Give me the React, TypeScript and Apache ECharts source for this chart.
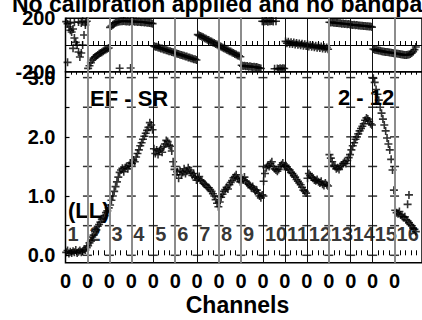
import React, { useEffect, useRef } from 'react';
import * as echarts from 'echarts';

// ---------- data ----------
const titleText = 'No calibration applied and no bandpass';
const xAxisName = 'Channels';
const baselineText = 'EF - SR';
const sourceText = '2 - 12';
const polText = '(LL)';
const ifLabels = ['1', '2', '3', '4', '5', '6', '7', '8', '9', '10', '11', '12', '13', '14', '15', '16'];
const channelTickLabel = '0';
const ampTickValues = [0, 1, 2, 3];
const ampMinorValues = [0, 0.5, 1, 1.5, 2, 2.5, 3];
const phaseTickValues = [-200, 200];
const CH = 16; // channels per IF

const amplitude = [
  [0.05, 0.08, 0.03, 0.06, 0.04, 0.07, 0.05, 0.09, 0.04, 0.06, 0.08, 0.05, 0.07, 0.10, 0.09, 0.13],
  [0.16, 0.21, 0.24, 0.31, 0.34, 0.40, 0.43, 0.49, 0.52, 0.56, 0.61, 0.63, 0.67, 0.72, 0.75, 0.80],
  [0.85, 0.93, 1.00, 1.08, 1.16, 1.24, 1.32, 1.40, 1.44, 1.47, 1.41, 1.48, 1.50, 1.46, 1.52, 1.56],
  [1.55, 1.61, 1.58, 1.66, 1.72, 1.78, 1.85, 1.90, 1.96, 2.01, 2.06, 2.11, 2.16, 2.24, 2.20, 2.12],
  [1.80, 1.72, 1.78, 1.70, 1.76, 1.80, 1.74, 1.83, 1.88, 1.94, 1.92, 1.86, 1.84, 1.76, 1.58, 1.45],
  [1.36, 1.41, 1.30, 1.43, 1.36, 1.40, 1.46, 1.38, 1.42, 1.48, 1.44, 1.40, 1.35, 1.38, 1.32, 1.27],
  [1.30, 1.33, 1.27, 1.25, 1.22, 1.20, 1.18, 1.15, 1.14, 1.11, 1.08, 1.04, 1.00, 0.94, 0.88, 0.82],
  [0.90, 0.98, 1.03, 1.08, 1.11, 1.15, 1.12, 1.19, 1.23, 1.26, 1.31, 1.33, 1.36, 1.30, 1.28, 1.24],
  [1.30, 1.27, 1.32, 1.25, 1.22, 1.20, 1.18, 1.14, 1.16, 1.12, 1.08, 1.10, 1.05, 1.00, 0.97, 1.02],
  [1.25, 1.38, 1.48, 1.52, 1.50, 1.55, 1.58, 1.50, 1.46, 1.44, 1.42, 1.45, 1.50, 1.53, 1.56, 1.50],
  [1.52, 1.49, 1.46, 1.44, 1.40, 1.38, 1.35, 1.32, 1.28, 1.25, 1.22, 1.19, 1.15, 1.10, 1.08, 1.05],
  [1.30, 1.38, 1.35, 1.32, 1.30, 1.27, 1.26, 1.28, 1.24, 1.22, 1.25, 1.20, 1.18, 1.22, 1.19, 1.17],
  [1.70, 1.64, 1.58, 1.52, 1.50, 1.46, 1.48, 1.45, 1.50, 1.52, 1.55, 1.58, 1.55, 1.60, 1.65, 1.70],
  [1.78, 1.85, 1.90, 1.96, 2.00, 2.05, 2.10, 2.14, 2.18, 2.22, 2.28, 2.32, 2.30, 2.26, 2.22, 2.20],
  [2.99, 2.92, 2.80, 2.72, 2.62, 2.50, 2.40, 2.30, 2.20, 2.10, 1.98, 1.88, 1.78, 1.62, 1.44, 1.10],
  [0.76, 0.72, 0.70, 0.74, 0.68, 0.66, 0.64, 0.65, 0.60, 0.58, 0.55, 0.52, 0.50, 0.46, 0.44, 0.40],
];
const ampExtraIF = [15, 15];
const ampExtraChan = [10, 9];
const ampExtraVal = [1.02, 0.86];

const phase = [
  [175, -130, 135, 165, 97, 120, 52, 20, 0, -52, -90, -60, 0, 75, 150, 178],
  [-175, -155, -132, -112, -98, -90, -82, -74, -66, -60, -54, -46, -40, -34, -28, -22],
  [132, 142, 152, 160, 166, 170, 174, 176, 178, 177, 179, 178, 176, 178, 175, 177],
  [176, 177, 174, 176, 173, 175, 172, 171, 172, 169, 170, 167, 166, 164, 163, 160],
  [-8, -13, -14, -19, -21, -26, -27, -33, -34, -39, -41, -46, -47, -53, -54, -59],
  [-62, -66, -67, -73, -74, -79, -81, -86, -87, -93, -94, -99, -101, -106, -107, -112],
  [78, 72, 68, 61, 58, 51, 47, 40, 37, 29, 26, 19, 15, 7, 3, -4],
  [-8, -14, -19, -25, -29, -36, -39, -46, -49, -57, -60, -67, -71, -78, -81, -88],
  [-152, -158, -155, -160, -158, -162, -160, -163, -165, -162, -167, -165, -170, -172, -176, 178],
  [176, 178, 179, 175, 178, 177, 179, 176, -178, 178, -176, -179, -175, -178, -174, -176],
  [27, 13, 24, 10, 21, 7, 18, 4, 15, 1, 12, -2, 9, -5, 6, -8],
  [3, -11, 0, -14, -3, -17, -6, -20, -9, -23, -12, -26, -15, -29, -18, -32],
  [170, 168, 171, 166, 167, 164, 165, 162, 163, 160, 161, 158, 159, 156, 157, 154],
  [152, 150, 151, 148, 149, 146, 147, 144, 145, 142, 143, 140, 141, 138, 139, 134],
  [-30, -35, -37, -40, -42, -44, -46, -48, -50, -52, -53, -55, -56, -58, -60, -62],
  [-62, -64, -66, -68, -70, -72, -73, -74, -74, -73, -71, -67, -60, -50, -35, -15],
];
const phaseExtraIF = [0, 0, 0, 0, 0, 0, 0, 0, 2, 2];
const phaseExtraChan = [1, 3, 5, 6, 9, 11, 12, 14, 7, 15];
const phaseExtraVal = [160, 110, -25, 170, 172, 165, 178, 168, -174, -172];

// IF boundary line shades (1 = grey, 0 = black), boundaries 1..15
const boundaryShade = [1, 1, 1, 0, 1, 0, 1, 1, 0, 0, 0, 1, 0, 0, 1];

const FONT = '"Liberation Sans", Arial, Helvetica, sans-serif';

export default function App() {
  const ref = useRef<HTMLDivElement>(null);

  useEffect(() => {
    if (!ref.current) return;
    const chart = echarts.init(ref.current, null, { renderer: 'svg' });

    const nIF = amplitude.length;
    const xMax = 260;
    const chanX = (i: number, c: number) => i * CH + c + 0.5;

    const ampData: number[][] = [];
    amplitude.forEach((arr, i) => arr.forEach((v, c) => ampData.push([chanX(i, c), v])));
    ampExtraIF.forEach((i, k) => ampData.push([chanX(i, ampExtraChan[k]), ampExtraVal[k]]));

    const phData: number[][] = [];
    phase.forEach((arr, i) => arr.forEach((v, c) => phData.push([chanX(i, c), v])));
    phaseExtraIF.forEach((i, k) => phData.push([chanX(i, phaseExtraChan[k]), phaseExtraVal[k]]));

    const bounds: number[] = [];
    for (let k = 0; k <= nIF; k++) bounds.push(k * CH);
    const minorTicks: number[] = [];
    for (let v = 0; v <= nIF * CH; v += CH / 4) minorTicks.push(v);

    const markLineData = boundaryShade.map((s, k) => ({
      xAxis: bounds[k + 1],
      lineStyle: s ? { color: '#8c8c8c', width: 2, type: 'solid' } : { color: '#111', width: 1, type: 'solid' },
    }));

    const crossTicks: number[][] = [];
    bounds.slice(1, nIF).forEach((b) => ampMinorValues.forEach((v) => crossTicks.push([b, v])));

    const plus = 'path://M0,5L10,5M5,0L5,10';
    const markerStyle = { color: 'rgba(0,0,0,0)', borderColor: '#000', borderWidth: 1.6 };

    const option: any = {
      animation: false,
      backgroundColor: '#fff',
      grid: [
        { left: 65.5, top: 18.3, right: -1.8, height: 53.4, show: true, borderColor: '#000', borderWidth: 1.5, backgroundColor: 'transparent' },
        { left: 65.5, top: 71.7, right: -1.8, height: 191, show: true, borderColor: '#000', borderWidth: 1.5, backgroundColor: 'transparent' },
      ],
      xAxis: [
        {
          type: 'value', gridIndex: 0, min: 0, max: xMax,
          axisLine: { show: false }, splitLine: { show: false },
          axisLabel: { show: false },
          axisTick: { show: true, inside: true, length: 4, customValues: minorTicks, lineStyle: { color: '#000', width: 1 } },
        },
        {
          type: 'value', gridIndex: 1, min: 0, max: xMax, position: 'bottom',
          axisLine: { show: false }, splitLine: { show: false },
          axisLabel: {
            customValues: bounds.slice(0, nIF), formatter: () => channelTickLabel,
            color: '#000', fontFamily: FONT, fontWeight: 'bold', fontSize: 20, margin: 8,
          },
          axisTick: { show: true, inside: true, length: 5, customValues: minorTicks, lineStyle: { color: '#000', width: 1 } },
        },
        {
          type: 'value', gridIndex: 1, min: 0, max: xMax, position: 'top',
          axisLine: { show: false }, splitLine: { show: false },
          axisLabel: { show: false },
          axisTick: { show: true, inside: true, length: 3, customValues: minorTicks, lineStyle: { color: '#000', width: 1 } },
        },
      ],
      yAxis: [
        {
          type: 'value', gridIndex: 0, min: -200, max: 200, interval: 200,
          axisLine: { show: false }, axisTick: { show: false },
          splitLine: { show: true, lineStyle: { color: '#000', width: 1.2 } },
          axisLabel: {
            customValues: phaseTickValues, formatter: (v: number) => String(v),
            color: '#000', fontFamily: FONT, fontWeight: 'bold', fontSize: 20, margin: 10,
          },
        },
        {
          type: 'value', gridIndex: 1, min: -0.125, max: 3.1,
          axisLine: { show: false }, splitLine: { show: false },
          axisTick: { show: true, inside: true, length: 4, customValues: ampMinorValues, lineStyle: { color: '#000', width: 1.2 } },
          axisLabel: {
            customValues: ampTickValues, formatter: (v: number) => v.toFixed(1),
            color: '#000', fontFamily: FONT, fontWeight: 'bold', fontSize: 20, margin: 10,
          },
        },
      ],
      series: [
        {
          type: 'scatter', xAxisIndex: 0, yAxisIndex: 0, z: 1, silent: true,
          symbol: 'rect', symbolSize: 0.01, data: [[bounds[1], 0]],
          itemStyle: { color: 'rgba(0,0,0,0)' },
          markLine: { silent: true, symbol: ['none', 'none'], label: { show: false }, data: markLineData },
        },
        {
          type: 'scatter', xAxisIndex: 1, yAxisIndex: 1, z: 1, silent: true,
          symbol: 'rect', symbolSize: [9, 1.5], data: crossTicks,
          itemStyle: { color: '#000' },
          markLine: { silent: true, symbol: ['none', 'none'], label: { show: false }, data: markLineData },
        },
        {
          type: 'scatter', xAxisIndex: 1, yAxisIndex: 1, z: 2, silent: true,
          symbol: 'rect', symbolSize: 1, itemStyle: { color: 'rgba(0,0,0,0)' },
          data: ifLabels.map((t, i) => ({ value: [bounds[i], 0.36], name: t })),
          label: {
            show: true, position: 'right', distance: 1.5, formatter: (p: any) => p.name,
            color: '#000', fontFamily: FONT, fontWeight: 'bold', fontSize: 20,
          },
        },
        {
          type: 'scatter', xAxisIndex: 0, yAxisIndex: 0, z: 3, silent: true,
          symbol: plus, symbolSize: 8, itemStyle: markerStyle, data: phData,
        },
        {
          type: 'scatter', xAxisIndex: 1, yAxisIndex: 1, z: 3, silent: true,
          symbol: plus, symbolSize: 8, itemStyle: markerStyle, data: ampData,
        },
      ],
      graphic: [
        { type: 'text', x: 12, y: 4, z: 0, style: { text: titleText, font: `bold 23px ${FONT}`, fill: '#000', align: 'left', verticalAlign: 'middle' } },
        { type: 'text', x: 237.5, y: 305, z: 0, style: { text: xAxisName, font: `bold 23px ${FONT}`, fill: '#000', align: 'center', verticalAlign: 'middle' } },
        { type: 'text', x: 90, y: 98, z: 0, style: { text: baselineText, font: `bold 22px ${FONT}`, fill: '#000', align: 'left', verticalAlign: 'middle' } },
        { type: 'text', x: 338, y: 97, z: 0, style: { text: sourceText, font: `bold 22px ${FONT}`, fill: '#000', align: 'left', verticalAlign: 'middle' } },
        { type: 'text', x: 68, y: 210, z: 0, style: { text: polText, font: `bold 22px ${FONT}`, fill: '#000', align: 'left', verticalAlign: 'middle' } },
      ],
    };

    chart.setOption(option);
    return () => chart.dispose();
  }, []);

  return <div ref={ref} style={{ position: 'fixed', left: 0, top: 0, width: 422, height: 320 }} />;
}
